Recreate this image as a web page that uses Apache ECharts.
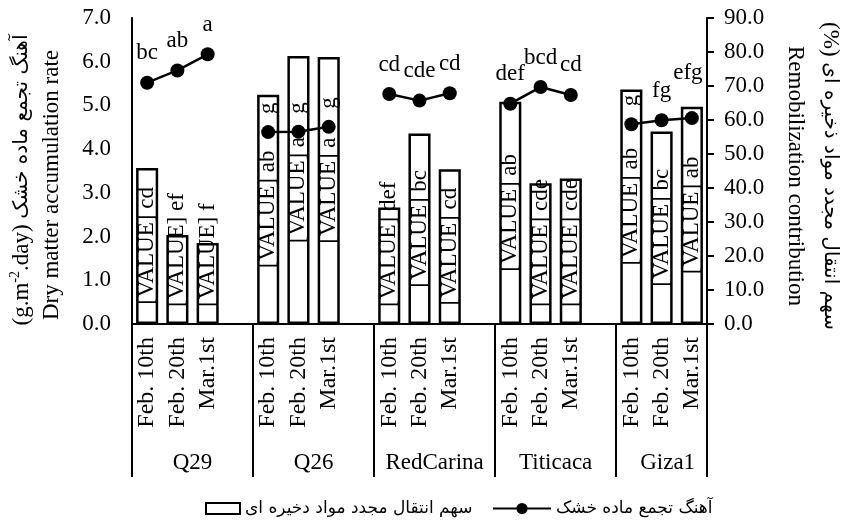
<!DOCTYPE html>
<html>
<head>
<meta charset="utf-8">
<script src="https://cdn.jsdelivr.net/npm/echarts@6/dist/echarts.min.js"></script>
<style>
  html, body { margin: 0; padding: 0; background: #fff; }
  #chart { width: 855px; height: 528px; }
</style>
</head>
<body>
<div id="chart"></div>
<script>
// Cultivars (groups) and sampling dates (bars inside each group)
const cultivars = ['Q29', 'Q26', 'RedCarina', 'Titicaca', 'Giza1'];
const dates = ['Feb. 10th', 'Feb. 20th', 'Mar.1st'];

// Remobilization contribution (%), right axis – bars
const remobQ29 = [45.9, 26.2, 23.8];
const remobQ26 = [67.4, 78.8, 78.5];
const remobRedCarina = [34.3, 56.0, 45.5];
const remobTiticaca = [65.4, 41.4, 42.8];
const remobGiza1 = [69.0, 56.6, 63.9];

// Mean-comparison letters printed on the bars
const remobLetters = [
  ['cd', 'ef', 'f'],
  ['ab', 'a', 'a'],
  ['def', 'bc', 'cd'],
  ['ab', 'cde', 'cde'],
  ['ab', 'bc', 'ab']
];

// Dry matter accumulation rate (g.m-2.day), left axis – line
const rateQ29 = [5.52, 5.80, 6.17];
const rateQ26 = [4.39, 4.40, 4.51];
const rateRedCarina = [5.26, 5.11, 5.28];
const rateTiticaca = [5.04, 5.42, 5.24];
const rateGiza1 = [4.57, 4.66, 4.71];

// Letters printed above the line points
const rateLetters = [
  ['bc', 'ab', 'a'],
  ['g', 'g', 'g'],
  ['cd', 'cde', 'cd'],
  ['def', 'bcd', 'cd'],
  ['g', 'fg', 'efg']
];

// Axis ranges
const leftMin = 0, leftMax = 7, leftStep = 1;
const rightMin = 0, rightMax = 90, rightStep = 10;

const remobByGroup = [remobQ29, remobQ26, remobRedCarina, remobTiticaca, remobGiza1];
const rateByGroup = [rateQ29, rateQ26, rateRedCarina, rateTiticaca, rateGiza1];

const SERIF = "'Liberation Serif', 'Times New Roman', serif";
const PERSIAN = "'DejaVu Sans', 'Noto Sans', sans-serif";
const FS = 23;

// Each group occupies four slots: three dates and one empty spacer (no spacer after the last group)
const slots = [];          // {g, k} or null for spacer
cultivars.forEach((c, g) => {
  dates.forEach((d, k) => slots.push({ g, k }));
  if (g < cultivars.length - 1) slots.push(null);
});
const categoryLabels = slots.map(s => (s ? dates[s.k] : ''));
const barData = slots.map(s => (s ? remobByGroup[s.g][s.k] : '-'));

// Rotated labels for the letters that sit inside the tall Q26 / Giza1 bars
const rotatedRateLabel = { Q26: [0, 1, 2], Giza1: [0] };
const lineData = slots.map(s => {
  if (!s) return '-';
  const v = rateByGroup[s.g][s.k];
  const rot = rotatedRateLabel[cultivars[s.g]];
  if (rot && rot.includes(s.k)) {
    return {
      value: v,
      label: { rotate: 90, align: 'left', verticalAlign: 'middle', distance: 11 }
    };
  }
  if (cultivars[s.g] === 'Giza1' && s.k === 2) {
    return { value: v, label: { offset: [-4, -16] } };
  }
  return v;
});

// Bar label data for the custom text series: [slot index, value]
const barLabelData = [];
slots.forEach((s, i) => { if (s) barLabelData.push([i, remobByGroup[s.g][s.k]]); });

// Group divider positions / group label centres in slot units
const groupEdges = [0];
const groupCentres = [];
let pos = 0;
cultivars.forEach((c, g) => {
  const last = g === cultivars.length - 1;
  groupCentres.push(pos + (last ? 1.7 : 2));
  pos += last ? 3 : 4;
  groupEdges.push(pos);
});

const measureCtx = document.createElement('canvas').getContext('2d');
measureCtx.font = FS + 'px ' + SERIF;
function textLen(t) { return measureCtx.measureText(t).width; }

const chart = echarts.init(document.getElementById('chart'), null, { renderer: 'canvas' });

const option = {
  backgroundColor: '#fff',
  animation: false,
  textStyle: { fontFamily: SERIF, color: '#000' },
  grid: { left: 132, right: 148, top: 18, bottom: 204, containLabel: false, outerBoundsMode: 'none' },
  legend: [
    {
      data: ['سهم انتقال مجدد مواد دخیره ای'],
      left: 200, top: 495,
      icon: 'rect', itemWidth: 34, itemHeight: 11, itemGap: 10,
      textStyle: { fontFamily: PERSIAN, fontSize: 17, color: '#000' }
    },
    {
      data: ['آهنگ تجمع ماده خشک'],
      left: 487, top: 495,
      itemWidth: 58, itemHeight: 14,
      textStyle: { fontFamily: PERSIAN, fontSize: 17, color: '#000' }
    }
  ],
  xAxis: [
    {
      type: 'category',
      data: categoryLabels,
      boundaryGap: true,
      axisLine: { show: true, lineStyle: { color: '#000', width: 2 } },
      axisTick: { show: false },
      axisLabel: {
        interval: 0, rotate: 90, margin: 13,
        fontFamily: SERIF, fontSize: 24, color: '#000'
      },
      splitLine: { show: false }
    },
    {
      // Slot-unit axis carrying the group dividers and cultivar names
      type: 'value',
      position: 'bottom',
      offset: 0,
      min: 0, max: slots.length,
      axisLine: { show: false },
      axisTick: {
        show: true, inside: false, length: 153,
        customValues: groupEdges,
        lineStyle: { color: '#000', width: 2 }
      },
      axisLabel: {
        show: true, margin: 127,
        customValues: groupCentres,
        formatter: v => {
          const i = groupCentres.findIndex(c => Math.abs(c - v) < 1e-6);
          return i >= 0 ? cultivars[i] : '';
        },
        fontFamily: SERIF, fontSize: FS, color: '#000'
      },
      splitLine: { show: false }
    }
  ],
  yAxis: [
    {
      type: 'value',
      position: 'left',
      min: leftMin, max: leftMax, interval: leftStep,
      axisLine: { show: true, lineStyle: { color: '#000', width: 2 } },
      axisTick: { show: false },
      axisLabel: {
        margin: 21, fontFamily: SERIF, fontSize: FS, color: '#000',
        formatter: v => v.toFixed(1)
      },
      splitLine: { show: false }
    },
    {
      type: 'value',
      position: 'right',
      min: rightMin, max: rightMax, interval: rightStep,
      axisLine: { show: true, lineStyle: { color: '#000', width: 2 } },
      axisTick: { show: true, inside: false, length: 7, lineStyle: { color: '#000', width: 2 } },
      axisLabel: {
        margin: 17, fontFamily: SERIF, fontSize: FS, color: '#000',
        formatter: v => v.toFixed(1)
      },
      splitLine: { show: false }
    }
  ],
  series: [
    {
      name: 'سهم انتقال مجدد مواد دخیره ای',
      type: 'bar',
      xAxisIndex: 0, yAxisIndex: 1,
      data: barData,
      barWidth: '73%',
      itemStyle: { color: '#fff', borderColor: '#000', borderWidth: 2.5 },
      emphasis: { disabled: true },
      z: 2
    },
    {
      // "[VALUE] letter" captions, centred in each bar but kept clear of the baseline
      type: 'custom',
      xAxisIndex: 0, yAxisIndex: 1,
      data: barLabelData,
      silent: true,
      z: 3,
      renderItem: (params, api) => {
        const idx = api.value(0);
        const v = api.value(1);
        const s = slots[idx];
        const text = '[VALUE] ' + remobLetters[s.g][s.k];
        const base = api.coord([idx, 0]);
        const top = api.coord([idx, v]);
        const len = textLen(text);
        const mid = (base[1] + top[1]) / 2;
        const y = Math.min(mid, base[1] - 17 - len / 2);
        return {
          type: 'text',
          x: base[0], y: y,
          rotation: Math.PI / 2,
          style: {
            text: text, fill: '#000',
            font: FS + 'px ' + SERIF,
            align: 'center', verticalAlign: 'middle'
          }
        };
      }
    },
    {
      name: 'آهنگ تجمع ماده خشک',
      type: 'line',
      xAxisIndex: 0, yAxisIndex: 0,
      data: lineData,
      connectNulls: false,
      symbol: 'circle', symbolSize: 14,
      lineStyle: { color: '#000', width: 2.5 },
      itemStyle: { color: '#000' },
      label: {
        show: true, position: 'top', distance: 11,
        fontFamily: SERIF, fontSize: FS, color: '#000',
        formatter: p => {
          const s = slots[p.dataIndex];
          return s ? rateLetters[s.g][s.k] : '';
        }
      },
      emphasis: { disabled: true },
      z: 4
    }
  ],
  graphic: [
    {
      type: 'text', x: 22, y: 180, rotation: Math.PI / 2,
      style: {
        text: '{a|(g.m}{s|-2}{a|.day) }{p|آهنگ تجمع ماده خشک}',
        align: 'center', verticalAlign: 'middle', fill: '#000',
        rich: {
          a: { fontFamily: SERIF, fontSize: FS, fill: '#000' },
          s: { fontFamily: SERIF, fontSize: 14, fill: '#000', verticalAlign: 'top', lineHeight: 28 },
          p: { fontFamily: PERSIAN, fontSize: 20, fill: '#000' }
        }
      }
    },
    {
      type: 'text', x: 52, y: 185, rotation: Math.PI / 2,
      style: {
        text: 'Dry matter accumulation rate',
        font: FS + 'px ' + SERIF, fill: '#000',
        align: 'center', verticalAlign: 'middle'
      }
    },
    {
      type: 'text', x: 795, y: 176, rotation: -Math.PI / 2,
      style: {
        text: 'Remobilization contribution',
        font: FS + 'px ' + SERIF, fill: '#000',
        align: 'center', verticalAlign: 'middle'
      }
    },
    {
      type: 'text', x: 830, y: 176, rotation: -Math.PI / 2,
      style: {
        text: '{a|(%) }{p|سهم انتقال مجدد مواد ذخیره ای}',
        align: 'center', verticalAlign: 'middle', fill: '#000',
        rich: {
          a: { fontFamily: SERIF, fontSize: FS, fill: '#000' },
          p: { fontFamily: PERSIAN, fontSize: 20, fill: '#000' }
        }
      }
    }
  ]
};

chart.setOption(option);
</script>
</body>
</html>
